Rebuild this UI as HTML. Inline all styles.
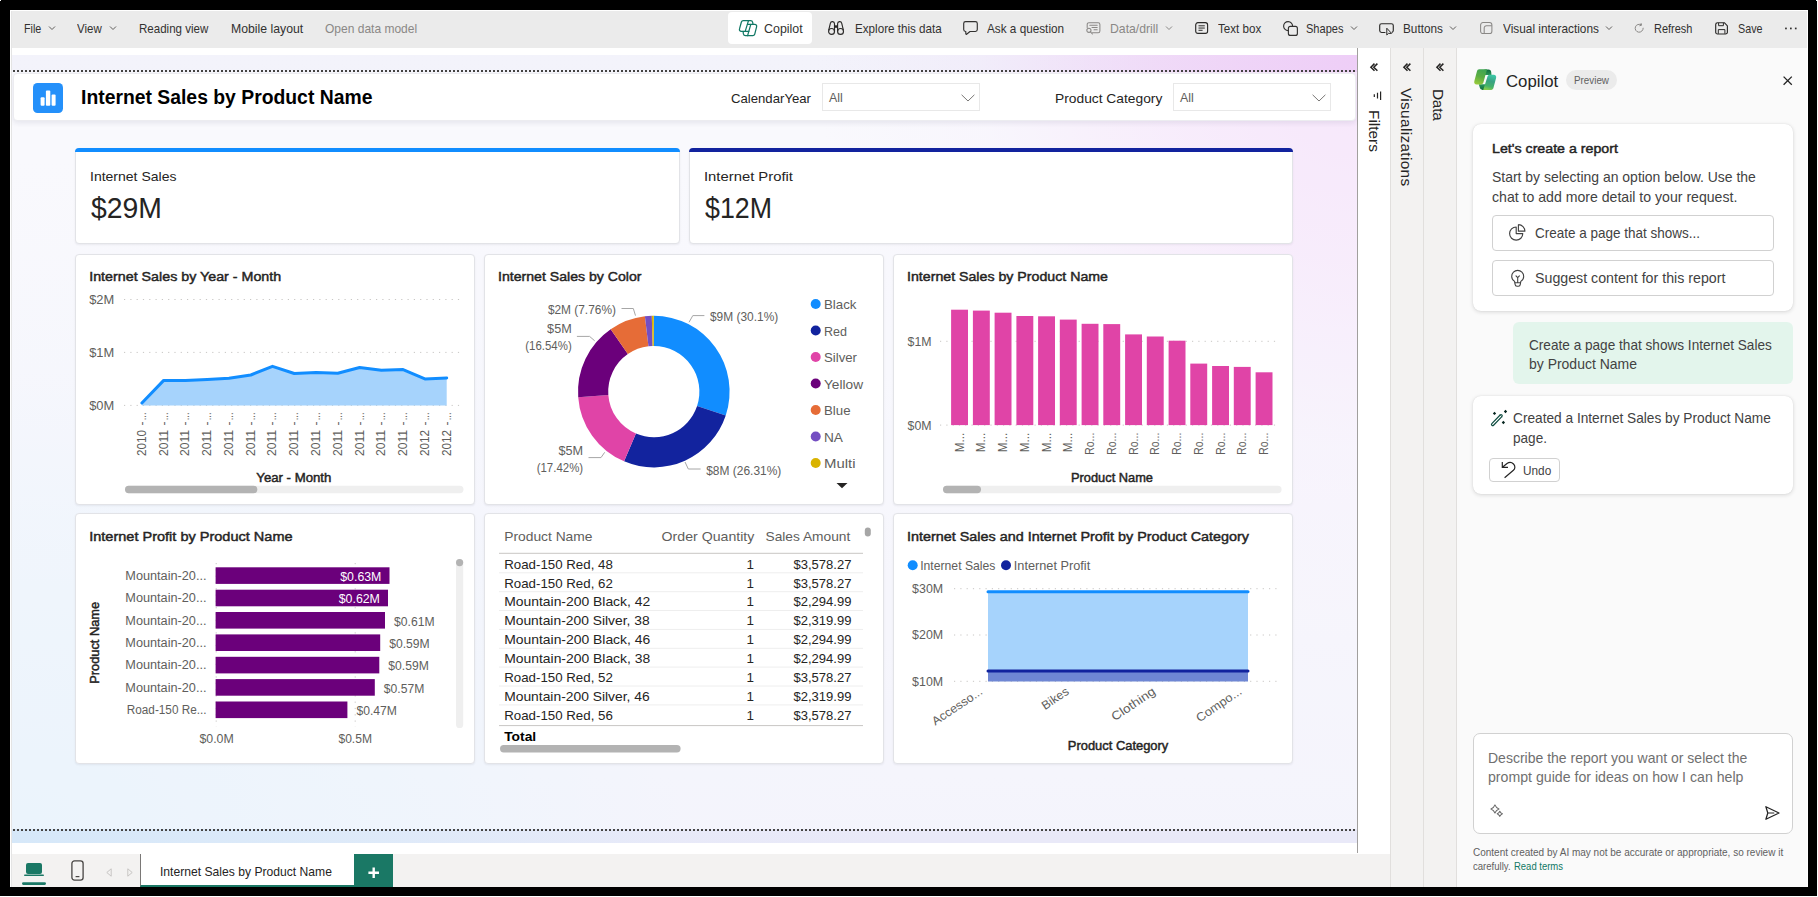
<!DOCTYPE html>
<html>
<head>
<meta charset="utf-8">
<title>Power BI - Internet Sales by Product Name</title>
<style>
*{box-sizing:border-box;margin:0;padding:0}
html,body{width:1818px;height:897px;overflow:hidden;background:#fff}
body{font-family:"Liberation Sans",sans-serif;color:#252423;position:relative}
.abs{position:absolute}
.t{position:absolute;white-space:nowrap;line-height:1.16;color:#252423}
#frame{position:absolute;left:0;top:0;width:1817px;height:896px;background:#000}
#app{position:absolute;left:10px;top:10px;width:1798px;height:877px;background:#fff;overflow:hidden}
svg{overflow:visible}
.card{position:absolute;background:#fff;border:1px solid #e2e3e7;border-radius:4px;box-shadow:0 1px 2px rgba(60,60,80,0.08)}

</style>
</head>
<body>
<div id="frame"></div>
<div class="abs" style="left:0;top:0;width:1px;height:1px;background:#fff"></div>
<div class="abs" style="left:1816px;top:0;width:1px;height:1px;background:#fff"></div>
<div id="app">
<div class="abs" style="left:0.0px;top:0.0px;width:1798.0px;height:38.0px;background:#ebebeb;"></div>
<div class="abs" style="left:718.0px;top:2.0px;width:84.0px;height:32.0px;background:#fff;border-radius:4px;"></div>
<div class="t" style="left:13.6px;top:11.5px;font-size:12.60px;transform:scaleX(0.8521);transform-origin:0 50%;color:#323130;">File</div>
<div class="t" style="left:67.3px;top:11.5px;font-size:12.60px;transform:scaleX(0.9120);transform-origin:0 50%;color:#323130;">View</div>
<div class="t" style="left:128.7px;top:11.5px;font-size:12.60px;transform:scaleX(0.9161);transform-origin:0 50%;color:#323130;">Reading view</div>
<div class="t" style="left:221.0px;top:11.5px;font-size:12.60px;transform:scaleX(0.9738);transform-origin:0 50%;color:#323130;">Mobile layout</div>
<div class="t" style="left:315.0px;top:11.5px;font-size:12.60px;transform:scaleX(0.9538);transform-origin:0 50%;color:#8a8886;">Open data model</div>
<div class="t" style="left:753.6px;top:11.5px;font-size:12.60px;transform:scaleX(0.9867);transform-origin:0 50%;color:#323130;">Copilot</div>
<div class="t" style="left:844.5px;top:11.5px;font-size:12.60px;transform:scaleX(0.9248);transform-origin:0 50%;color:#323130;">Explore this data</div>
<div class="t" style="left:976.9px;top:11.5px;font-size:12.60px;transform:scaleX(0.9328);transform-origin:0 50%;color:#323130;">Ask a question</div>
<div class="t" style="left:1099.7px;top:11.5px;font-size:12.60px;transform:scaleX(0.9715);transform-origin:0 50%;color:#8a8886;">Data/drill</div>
<div class="t" style="left:1207.7px;top:11.5px;font-size:12.60px;transform:scaleX(0.9228);transform-origin:0 50%;color:#323130;">Text box</div>
<div class="t" style="left:1296.0px;top:11.5px;font-size:12.60px;transform:scaleX(0.8775);transform-origin:0 50%;color:#323130;">Shapes</div>
<div class="t" style="left:1393.3px;top:11.5px;font-size:12.60px;transform:scaleX(0.9338);transform-origin:0 50%;color:#323130;">Buttons</div>
<div class="t" style="left:1492.5px;top:11.5px;font-size:12.60px;transform:scaleX(0.9409);transform-origin:0 50%;color:#323130;">Visual interactions</div>
<div class="t" style="left:1643.8px;top:11.5px;font-size:12.60px;transform:scaleX(0.8704);transform-origin:0 50%;color:#323130;">Refresh</div>
<div class="t" style="left:1728.0px;top:11.5px;font-size:12.60px;transform:scaleX(0.8531);transform-origin:0 50%;color:#323130;">Save</div>
<svg class="abs" style="left:37.5px;top:15.3px;" width="8" height="6" viewBox="0 0 8 6"><path d="M1 1.5 L4 4.5 L7 1.5" fill="none" stroke="#605e5c" stroke-width="1"/></svg>
<svg class="abs" style="left:99.0px;top:15.3px;" width="8" height="6" viewBox="0 0 8 6"><path d="M1 1.5 L4 4.5 L7 1.5" fill="none" stroke="#605e5c" stroke-width="1"/></svg>
<svg class="abs" style="left:1155.0px;top:15.3px;" width="8" height="6" viewBox="0 0 8 6"><path d="M1 1.5 L4 4.5 L7 1.5" fill="none" stroke="#8a8886" stroke-width="1"/></svg>
<svg class="abs" style="left:1340.3px;top:15.3px;" width="8" height="6" viewBox="0 0 8 6"><path d="M1 1.5 L4 4.5 L7 1.5" fill="none" stroke="#605e5c" stroke-width="1"/></svg>
<svg class="abs" style="left:1439.4px;top:15.3px;" width="8" height="6" viewBox="0 0 8 6"><path d="M1 1.5 L4 4.5 L7 1.5" fill="none" stroke="#605e5c" stroke-width="1"/></svg>
<svg class="abs" style="left:1594.6px;top:15.3px;" width="8" height="6" viewBox="0 0 8 6"><path d="M1 1.5 L4 4.5 L7 1.5" fill="none" stroke="#605e5c" stroke-width="1"/></svg>
<svg class="abs" style="left:1774.8px;top:15.7px;" width="12" height="5" viewBox="0 0 12 5"><rect x="0.1" y="1.6" width="1.7" height="1.7" fill="#323130"/><rect x="5" y="1.6" width="1.7" height="1.7" fill="#323130"/><rect x="9.9" y="1.6" width="1.7" height="1.7" fill="#323130"/></svg>
<svg class="abs" style="left:728.9px;top:9.8px;" width="18.2" height="16.3" viewBox="0 0 18.2 16.3"><g fill="none" stroke="#117865" stroke-width="1.25" stroke-linejoin="round" stroke-linecap="round"><path d="M4.2 0.65 H9.5 L6.2 11.4 H2.3 C0.9 11.4 0.1 10.2 0.5 8.9 L2.4 2 C2.7 1.1 3.3 0.65 4.2 0.65 Z"/><path d="M13.9 15.65 H8.6 L11.8 4.3 H15.8 C17.2 4.3 18 5.5 17.6 6.8 L15.7 14.3 C15.4 15.2 14.8 15.65 13.9 15.65 Z"/><path d="M9.5 0.65 H11.6 C12.8 0.65 13.5 1.4 13.7 2.4 L14 4.3 M8.5 4.3 H11.8"/><path d="M8.6 15.65 H6.5 C5.3 15.65 4.6 14.9 4.4 13.9 L4.1 11.4 M6.2 11.4 H9.8"/></g></svg>
<svg class="abs" style="left:817.9px;top:11.0px;" width="16.1" height="14" viewBox="0 0 16.1 14"><g fill="none" stroke="#2b2a29" stroke-width="1.15" stroke-linejoin="round"><path d="M0.65 9.4 L2.35 2.3 A2.1 2.1 0 0 1 6.5 2.7 V10.4"/><circle cx="3.55" cy="10.4" r="2.95"/><path d="M15.45 9.4 L13.75 2.3 A2.1 2.1 0 0 0 9.6 2.7 V10.4"/><circle cx="12.55" cy="10.4" r="2.95"/></g><rect x="6.5" y="4.3" width="3.1" height="2.5" fill="#2b2a29"/></svg>
<svg class="abs" style="left:953.2px;top:11.3px;" width="15" height="14.2" viewBox="0 0 15 14.2"><path d="M2.6 0.7 H12.4 A1.9 1.9 0 0 1 14.3 2.6 V8.6 A1.9 1.9 0 0 1 12.4 10.5 H7 L3.6 13.2 C3.2 13.5 2.8 13.3 2.8 12.8 V10.5 H2.6 A1.9 1.9 0 0 1 0.7 8.6 V2.6 A1.9 1.9 0 0 1 2.6 0.7 Z" fill="none" stroke="#323130" stroke-width="1.15" stroke-linejoin="round"/></svg>
<svg class="abs" style="left:1075.8px;top:12.4px;" width="14.6" height="12.6" viewBox="0 0 14.6 12.6"><g fill="none" stroke="#8a8886" stroke-width="1.05" stroke-linejoin="round" stroke-linecap="round"><path d="M1.2 5.6 V2.4 A1.7 1.7 0 0 1 2.9 0.7 H12.2 A1.7 1.7 0 0 1 13.9 2.4 V9 A1.7 1.7 0 0 1 12.2 10.7 H6.4"/><path d="M3.8 3.3 H11.2 M6 5.5 H11.2 M8 7.7 H11.2"/><circle cx="2.9" cy="8.3" r="2.1"/><path d="M4.5 9.9 L6.4 12"/></g></svg>
<svg class="abs" style="left:1184.7px;top:12.1px;" width="13.3" height="12.1" viewBox="0 0 13.3 12.1"><g fill="none" stroke="#2b2a29" stroke-width="1.15" stroke-linecap="round"><rect x="0.7" y="0.7" width="11.9" height="10.7" rx="2.2"/><path d="M3.9 3.8 H9.4 M3.9 6.05 H9.4 M3.9 8.3 H7.2" stroke-width="1"/></g></svg>
<svg class="abs" style="left:1272.6px;top:10.6px;" width="15.2" height="15" viewBox="0 0 15.2 15"><g fill="none" stroke="#323130" stroke-width="1.15"><path d="M5.4 9.6 A4.5 4.5 0 1 1 9.6 5.4"/><rect x="5.4" y="5.4" width="9" height="9" rx="2"/></g></svg>
<svg class="abs" style="left:1369.3px;top:12.7px;" width="15.4" height="13" viewBox="0 0 15.4 13"><g fill="none" stroke="#2b2a29" stroke-width="1.15" stroke-linejoin="round" stroke-linecap="round"><path d="M6 9.5 H2.6 A1.9 1.9 0 0 1 0.7 7.6 V2.6 A1.9 1.9 0 0 1 2.6 0.7 H12.4 A1.9 1.9 0 0 1 14.3 2.6 V7.6 A1.9 1.9 0 0 1 13.2 9.3"/><path d="M7.8 5.6 V12 L9.5 10.4 H12.2 Z" stroke-width="1"/></g></svg>
<svg class="abs" style="left:1470.1px;top:12.0px;" width="12.6" height="12.4" viewBox="0 0 12.6 12.4"><g fill="none" stroke="#8a8886" stroke-width="1.05"><rect x="0.6" y="0.6" width="11.3" height="11" rx="2.4"/><path d="M4.2 11.6 V5.9 A2.2 2.2 0 0 1 6.4 3.7 H11.9"/></g></svg>
<svg class="abs" style="left:1624.2px;top:13.0px;" width="10.6" height="10" viewBox="0 0 10.6 10"><g fill="none" stroke="#8a8886" stroke-width="1" stroke-linecap="round" stroke-linejoin="round"><path d="M9.2 5.2 A4 4 0 1 1 7.2 1.75"/><path d="M7.1 0.5 L7.5 2.2 L5.8 2.7" /></g></svg>
<svg class="abs" style="left:1705.0px;top:11.8px;" width="13.2" height="12.6" viewBox="0 0 13.2 12.6"><g fill="none" stroke="#2b2a29" stroke-width="1.15" stroke-linejoin="round"><path d="M2.5 0.7 H9.3 L12.4 3.8 V10.2 A1.8 1.8 0 0 1 10.6 12 H2.5 A1.8 1.8 0 0 1 0.7 10.2 V2.5 A1.8 1.8 0 0 1 2.5 0.7 Z"/><path d="M3.6 0.9 V3.7 H8.4 V0.9" stroke-width="1"/><path d="M3.3 11.8 V7.6 H9.9 V11.8" stroke-width="1"/></g></svg>
<div class="abs" style="left:0.0px;top:45.0px;width:1347.0px;height:788.0px;background:radial-gradient(ellipse 540px 560px at 100% 0%, rgba(238,206,247,1) 0%, rgba(239,212,247,0.8) 35%, rgba(238,226,248,0.35) 70%, rgba(240,238,250,0) 100%),radial-gradient(ellipse 320px 760px at 100% 0%, rgba(238,214,246,0.5) 0%, rgba(240,224,248,0.28) 50%, rgba(240,238,250,0) 100%),radial-gradient(ellipse 900px 640px at 0% 100%, rgba(214,232,249,1) 0%, rgba(218,234,249,0.75) 40%, rgba(230,235,249,0.3) 75%, rgba(235,234,248,0) 100%),linear-gradient(180deg,#f3f3fb 0%,#f0f0fa 40%,#e9e9f8 100%);"></div>
<div class="abs" style="left:0.0px;top:62.0px;width:1347.0px;height:757.0px;background:rgba(255,255,255,0.5);"></div>
<div class="abs" style="left:1347.0px;top:38.0px;width:1.0px;height:805.0px;background:#a19f9d;"></div>
<div class="abs" style="left:3.0px;top:60.0px;width:1343.0px;height:2.0px;background-image:repeating-linear-gradient(90deg,#454443 0 2px,transparent 2px 4px);"></div>
<div class="abs" style="left:3.0px;top:819.0px;width:1343.0px;height:2.0px;background-image:repeating-linear-gradient(90deg,#454443 0 2px,transparent 2px 4px);"></div>
<div class="abs" style="left:3.0px;top:63.0px;width:1343.0px;height:48.0px;background:#fff;border-radius:4px;border:1px solid #ececf0;box-shadow:0 2px 5px rgba(60,60,100,0.10);"></div>
<div class="abs" style="left:23.0px;top:73.0px;width:30.0px;height:30.0px;background:#2490fa;border-radius:4.5px;"></div>
<svg class="abs" style="left:23.0px;top:73.0px;" width="30" height="30" viewBox="0 0 30 30"><g fill="#fff"><rect x="7.6" y="14.2" width="4" height="8.6" rx="1"/><rect x="12.9" y="7.4" width="4.4" height="15.4" rx="1"/><rect x="18.6" y="11.6" width="4" height="11.2" rx="1"/></g></svg>
<div class="t" style="left:71.0px;top:75.6px;font-size:19.60px;transform:scaleX(0.9875);transform-origin:0 50%;font-weight:bold;color:#000;">Internet Sales by Product Name</div>
<div class="t" style="left:721.4px;top:80.9px;font-size:13.60px;transform:scaleX(0.9677);transform-origin:0 50%;color:#252423;">CalendarYear</div>
<div class="abs" style="left:812.0px;top:73.0px;width:158.0px;height:27.5px;border:1px solid #e8e8e8;background:#fff;"></div>
<div class="t" style="left:819.0px;top:81.1px;font-size:12.40px;color:#605e5c;">All</div>
<svg class="abs" style="left:950.5px;top:83.5px;" width="14" height="8" viewBox="0 0 14 8"><path d="M0.6 0.8 L7 7 L13.4 0.8" fill="none" stroke="#7a7876" stroke-width="1"/></svg>
<div class="t" style="left:1045.0px;top:80.9px;font-size:13.60px;transform:scaleX(1.0148);transform-origin:0 50%;color:#252423;">Product Category</div>
<div class="abs" style="left:1163.0px;top:73.0px;width:158.0px;height:27.5px;border:1px solid #e8e8e8;background:#fff;"></div>
<div class="t" style="left:1170.0px;top:81.1px;font-size:12.40px;color:#605e5c;">All</div>
<svg class="abs" style="left:1301.7px;top:83.5px;" width="14" height="8" viewBox="0 0 14 8"><path d="M0.6 0.8 L7 7 L13.4 0.8" fill="none" stroke="#7a7876" stroke-width="1"/></svg>
<div class="card" style="left:65.0px;top:138.0px;width:605.0px;height:96.0px;"></div><div class="abs" style="left:65.0px;top:138.0px;width:605.0px;height:4.0px;background:#118dff;border-radius:4px 4px 0 0;"></div><div class="t" style="left:80.0px;top:159.1px;font-size:13.60px;transform:scaleX(1.0308);transform-origin:0 50%;color:#252423;">Internet Sales</div><div class="t" style="left:80.5px;top:181.9px;font-size:28.60px;transform:scaleX(0.9924);transform-origin:0 50%;color:#252423;">$29M</div>
<div class="card" style="left:679.0px;top:138.0px;width:604.0px;height:96.0px;"></div><div class="abs" style="left:679.0px;top:138.0px;width:604.0px;height:4.0px;background:#12239e;border-radius:4px 4px 0 0;"></div><div class="t" style="left:694.0px;top:159.1px;font-size:13.60px;transform:scaleX(1.0901);transform-origin:0 50%;color:#252423;">Internet Profit</div><div class="t" style="left:694.5px;top:181.9px;font-size:28.60px;transform:scaleX(0.9365);transform-origin:0 50%;color:#252423;">$12M</div>
<div class="card" style="left:65.0px;top:244.0px;width:400.0px;height:251.0px;"></div>
<div class="card" style="left:65.0px;top:503.0px;width:400.0px;height:251.0px;"></div>
<div class="card" style="left:474.0px;top:244.0px;width:400.0px;height:251.0px;"></div>
<div class="card" style="left:474.0px;top:503.0px;width:400.0px;height:251.0px;"></div>
<div class="card" style="left:883.0px;top:244.0px;width:400.0px;height:251.0px;"></div>
<div class="card" style="left:883.0px;top:503.0px;width:400.0px;height:251.0px;"></div>
<svg class="abs" style="left:0;top:0" width="1798" height="877" viewBox="10 10 1798 877" font-family="Liberation Sans, sans-serif"><text transform="translate(89.2,276.3)" x="0.0" y="4.80" font-size="13.40" fill="#252423" stroke="#252423" stroke-width="0.45" paint-order="stroke" textLength="192.00" lengthAdjust="spacingAndGlyphs">Internet Sales by Year - Month</text>
<text transform="translate(498.0,276.3)" x="0.0" y="4.80" font-size="13.40" fill="#252423" stroke="#252423" stroke-width="0.45" paint-order="stroke" textLength="143.50" lengthAdjust="spacingAndGlyphs">Internet Sales by Color</text>
<text transform="translate(907.0,276.3)" x="0.0" y="4.80" font-size="13.40" fill="#252423" stroke="#252423" stroke-width="0.45" paint-order="stroke" textLength="201.00" lengthAdjust="spacingAndGlyphs">Internet Sales by Product Name</text>
<text transform="translate(89.2,536.3)" x="0.0" y="4.80" font-size="13.40" fill="#252423" stroke="#252423" stroke-width="0.45" paint-order="stroke" textLength="203.40" lengthAdjust="spacingAndGlyphs">Internet Profit by Product Name</text>
<text transform="translate(907.0,536.3)" x="0.0" y="4.80" font-size="13.40" fill="#252423" stroke="#252423" stroke-width="0.45" paint-order="stroke" textLength="342.00" lengthAdjust="spacingAndGlyphs">Internet Sales and Internet Profit by Product Category</text>
<line x1="124" y1="299.5" x2="460" y2="299.5" stroke="#c8c6c4" stroke-width="1" stroke-dasharray="1.2 5.1" stroke-linecap="butt"/>
<text transform="translate(89.2,299.8)" x="0.0" y="4.44" font-size="12.40" fill="#605e5c" textLength="25.00" lengthAdjust="spacingAndGlyphs">$2M</text>
<line x1="124" y1="352.4" x2="460" y2="352.4" stroke="#c8c6c4" stroke-width="1" stroke-dasharray="1.2 5.1" stroke-linecap="butt"/>
<text transform="translate(89.2,352.7)" x="0.0" y="4.44" font-size="12.40" fill="#605e5c" textLength="25.00" lengthAdjust="spacingAndGlyphs">$1M</text>
<line x1="124" y1="405.4" x2="460" y2="405.4" stroke="#c8c6c4" stroke-width="1" stroke-dasharray="1.2 5.1" stroke-linecap="butt"/>
<text transform="translate(89.2,405.7)" x="0.0" y="4.44" font-size="12.40" fill="#605e5c" textLength="25.00" lengthAdjust="spacingAndGlyphs">$0M</text>
<polygon points="141.9,405.4 141.9,403.0 163.7,380.4 185.4,380.4 207.2,379.5 229.0,378.3 250.8,375.0 272.5,366.3 294.3,373.5 316.1,372.6 337.8,373.2 359.6,367.5 381.4,370.2 403.1,369.6 424.9,378.9 446.7,378.0 446.7,405.4" fill="#a6d3fc"/>
<polyline points="141.9,403.0 163.7,380.4 185.4,380.4 207.2,379.5 229.0,378.3 250.8,375.0 272.5,366.3 294.3,373.5 316.1,372.6 337.8,373.2 359.6,367.5 381.4,370.2 403.1,369.6 424.9,378.9 446.7,378.0" fill="none" stroke="#118dff" stroke-width="3" stroke-linejoin="round" stroke-linecap="round"/>
<text transform="translate(141.5,456.1) rotate(-90)" x="0.0" y="4.30" font-size="12.00" fill="#605e5c" textLength="26.20" lengthAdjust="spacingAndGlyphs">2010</text>
<text transform="translate(141.5,425.5) rotate(-90)" x="0.0" y="4.30" font-size="12.00" fill="#605e5c">-</text>
<text transform="translate(141.5,420.3) rotate(-90)" x="0.0" y="4.30" font-size="12.00" fill="#605e5c" textLength="7.80" lengthAdjust="spacingAndGlyphs">...</text>
<text transform="translate(163.3,456.1) rotate(-90)" x="0.0" y="4.30" font-size="12.00" fill="#605e5c" textLength="26.20" lengthAdjust="spacingAndGlyphs">2011</text>
<text transform="translate(163.3,425.5) rotate(-90)" x="0.0" y="4.30" font-size="12.00" fill="#605e5c">-</text>
<text transform="translate(163.3,420.3) rotate(-90)" x="0.0" y="4.30" font-size="12.00" fill="#605e5c" textLength="7.80" lengthAdjust="spacingAndGlyphs">...</text>
<text transform="translate(185.0,456.1) rotate(-90)" x="0.0" y="4.30" font-size="12.00" fill="#605e5c" textLength="26.20" lengthAdjust="spacingAndGlyphs">2011</text>
<text transform="translate(185.0,425.5) rotate(-90)" x="0.0" y="4.30" font-size="12.00" fill="#605e5c">-</text>
<text transform="translate(185.0,420.3) rotate(-90)" x="0.0" y="4.30" font-size="12.00" fill="#605e5c" textLength="7.80" lengthAdjust="spacingAndGlyphs">...</text>
<text transform="translate(206.8,456.1) rotate(-90)" x="0.0" y="4.30" font-size="12.00" fill="#605e5c" textLength="26.20" lengthAdjust="spacingAndGlyphs">2011</text>
<text transform="translate(206.8,425.5) rotate(-90)" x="0.0" y="4.30" font-size="12.00" fill="#605e5c">-</text>
<text transform="translate(206.8,420.3) rotate(-90)" x="0.0" y="4.30" font-size="12.00" fill="#605e5c" textLength="7.80" lengthAdjust="spacingAndGlyphs">...</text>
<text transform="translate(228.6,456.1) rotate(-90)" x="0.0" y="4.30" font-size="12.00" fill="#605e5c" textLength="26.20" lengthAdjust="spacingAndGlyphs">2011</text>
<text transform="translate(228.6,425.5) rotate(-90)" x="0.0" y="4.30" font-size="12.00" fill="#605e5c">-</text>
<text transform="translate(228.6,420.3) rotate(-90)" x="0.0" y="4.30" font-size="12.00" fill="#605e5c" textLength="7.80" lengthAdjust="spacingAndGlyphs">...</text>
<text transform="translate(250.3,456.1) rotate(-90)" x="0.0" y="4.30" font-size="12.00" fill="#605e5c" textLength="26.20" lengthAdjust="spacingAndGlyphs">2011</text>
<text transform="translate(250.3,425.5) rotate(-90)" x="0.0" y="4.30" font-size="12.00" fill="#605e5c">-</text>
<text transform="translate(250.3,420.3) rotate(-90)" x="0.0" y="4.30" font-size="12.00" fill="#605e5c" textLength="7.80" lengthAdjust="spacingAndGlyphs">...</text>
<text transform="translate(272.1,456.1) rotate(-90)" x="0.0" y="4.30" font-size="12.00" fill="#605e5c" textLength="26.20" lengthAdjust="spacingAndGlyphs">2011</text>
<text transform="translate(272.1,425.5) rotate(-90)" x="0.0" y="4.30" font-size="12.00" fill="#605e5c">-</text>
<text transform="translate(272.1,420.3) rotate(-90)" x="0.0" y="4.30" font-size="12.00" fill="#605e5c" textLength="7.80" lengthAdjust="spacingAndGlyphs">...</text>
<text transform="translate(293.9,456.1) rotate(-90)" x="0.0" y="4.30" font-size="12.00" fill="#605e5c" textLength="26.20" lengthAdjust="spacingAndGlyphs">2011</text>
<text transform="translate(293.9,425.5) rotate(-90)" x="0.0" y="4.30" font-size="12.00" fill="#605e5c">-</text>
<text transform="translate(293.9,420.3) rotate(-90)" x="0.0" y="4.30" font-size="12.00" fill="#605e5c" textLength="7.80" lengthAdjust="spacingAndGlyphs">...</text>
<text transform="translate(315.7,456.1) rotate(-90)" x="0.0" y="4.30" font-size="12.00" fill="#605e5c" textLength="26.20" lengthAdjust="spacingAndGlyphs">2011</text>
<text transform="translate(315.7,425.5) rotate(-90)" x="0.0" y="4.30" font-size="12.00" fill="#605e5c">-</text>
<text transform="translate(315.7,420.3) rotate(-90)" x="0.0" y="4.30" font-size="12.00" fill="#605e5c" textLength="7.80" lengthAdjust="spacingAndGlyphs">...</text>
<text transform="translate(337.4,456.1) rotate(-90)" x="0.0" y="4.30" font-size="12.00" fill="#605e5c" textLength="26.20" lengthAdjust="spacingAndGlyphs">2011</text>
<text transform="translate(337.4,425.5) rotate(-90)" x="0.0" y="4.30" font-size="12.00" fill="#605e5c">-</text>
<text transform="translate(337.4,420.3) rotate(-90)" x="0.0" y="4.30" font-size="12.00" fill="#605e5c" textLength="7.80" lengthAdjust="spacingAndGlyphs">...</text>
<text transform="translate(359.2,456.1) rotate(-90)" x="0.0" y="4.30" font-size="12.00" fill="#605e5c" textLength="26.20" lengthAdjust="spacingAndGlyphs">2011</text>
<text transform="translate(359.2,425.5) rotate(-90)" x="0.0" y="4.30" font-size="12.00" fill="#605e5c">-</text>
<text transform="translate(359.2,420.3) rotate(-90)" x="0.0" y="4.30" font-size="12.00" fill="#605e5c" textLength="7.80" lengthAdjust="spacingAndGlyphs">...</text>
<text transform="translate(381.0,456.1) rotate(-90)" x="0.0" y="4.30" font-size="12.00" fill="#605e5c" textLength="26.20" lengthAdjust="spacingAndGlyphs">2011</text>
<text transform="translate(381.0,425.5) rotate(-90)" x="0.0" y="4.30" font-size="12.00" fill="#605e5c">-</text>
<text transform="translate(381.0,420.3) rotate(-90)" x="0.0" y="4.30" font-size="12.00" fill="#605e5c" textLength="7.80" lengthAdjust="spacingAndGlyphs">...</text>
<text transform="translate(402.7,456.1) rotate(-90)" x="0.0" y="4.30" font-size="12.00" fill="#605e5c" textLength="26.20" lengthAdjust="spacingAndGlyphs">2011</text>
<text transform="translate(402.7,425.5) rotate(-90)" x="0.0" y="4.30" font-size="12.00" fill="#605e5c">-</text>
<text transform="translate(402.7,420.3) rotate(-90)" x="0.0" y="4.30" font-size="12.00" fill="#605e5c" textLength="7.80" lengthAdjust="spacingAndGlyphs">...</text>
<text transform="translate(424.5,456.1) rotate(-90)" x="0.0" y="4.30" font-size="12.00" fill="#605e5c" textLength="26.20" lengthAdjust="spacingAndGlyphs">2012</text>
<text transform="translate(424.5,425.5) rotate(-90)" x="0.0" y="4.30" font-size="12.00" fill="#605e5c">-</text>
<text transform="translate(424.5,420.3) rotate(-90)" x="0.0" y="4.30" font-size="12.00" fill="#605e5c" textLength="7.80" lengthAdjust="spacingAndGlyphs">...</text>
<text transform="translate(446.3,456.1) rotate(-90)" x="0.0" y="4.30" font-size="12.00" fill="#605e5c" textLength="26.20" lengthAdjust="spacingAndGlyphs">2012</text>
<text transform="translate(446.3,425.5) rotate(-90)" x="0.0" y="4.30" font-size="12.00" fill="#605e5c">-</text>
<text transform="translate(446.3,420.3) rotate(-90)" x="0.0" y="4.30" font-size="12.00" fill="#605e5c" textLength="7.80" lengthAdjust="spacingAndGlyphs">...</text>
<text transform="translate(293.8,477.5)" x="-37.5" y="4.44" font-size="12.40" fill="#252423" stroke="#252423" stroke-width="0.45" paint-order="stroke" textLength="75.00" lengthAdjust="spacingAndGlyphs">Year - Month</text>
<rect x="125" y="485.8" width="338.5" height="7.4" rx="3.7" fill="#efefef"/><rect x="125" y="485.8" width="132.3" height="7.4" rx="3.7" fill="#b3b3b3"/>
<path d="M653.80 315.80 A75.8 75.8 0 0 1 725.74 415.48 L697.08 405.96 A45.6 45.6 0 0 0 653.80 346.00 Z" fill="#118dff"/>
<path d="M725.74 415.48 A75.8 75.8 0 0 1 624.09 461.33 L635.93 433.55 A45.6 45.6 0 0 0 697.08 405.96 Z" fill="#12239e"/>
<path d="M624.09 461.33 A75.8 75.8 0 0 1 578.20 397.17 L608.32 394.95 A45.6 45.6 0 0 0 635.93 433.55 Z" fill="#e044a7"/>
<path d="M578.20 397.17 A75.8 75.8 0 0 1 610.68 329.26 L627.86 354.10 A45.6 45.6 0 0 0 608.32 394.95 Z" fill="#6b007b"/>
<path d="M610.68 329.26 A75.8 75.8 0 0 1 644.91 316.32 L648.45 346.31 A45.6 45.6 0 0 0 627.86 354.10 Z" fill="#e66c37"/>
<path d="M644.91 316.32 A75.8 75.8 0 0 1 651.80 315.83 L652.60 346.02 A45.6 45.6 0 0 0 648.45 346.31 Z" fill="#744ec2"/>
<path d="M651.80 315.83 A75.8 75.8 0 0 1 653.80 315.80 L653.80 346.00 A45.6 45.6 0 0 0 652.60 346.02 Z" fill="#d9b300"/>
<path d="M689 322.3 L692.8 315.6 H704.4" fill="none" stroke="#a6a6a6" stroke-width="1"/>
<path d="M685 462 L688.3 469 H700.6" fill="none" stroke="#a6a6a6" stroke-width="1"/>
<path d="M604.7 452.3 L601 457.6 H588.5" fill="none" stroke="#a6a6a6" stroke-width="1"/>
<path d="M594.7 340.8 L589.6 336.4 H576.9" fill="none" stroke="#a6a6a6" stroke-width="1"/>
<path d="M635.5 315.6 L633.3 308.5 H621.5" fill="none" stroke="#a6a6a6" stroke-width="1"/>
<text transform="translate(710.0,316.7)" x="0.0" y="4.30" font-size="12.00" fill="#605e5c" textLength="68.20" lengthAdjust="spacingAndGlyphs">$9M (30.1%)</text>
<text transform="translate(706.2,470.6)" x="0.0" y="4.30" font-size="12.00" fill="#605e5c" textLength="75.10" lengthAdjust="spacingAndGlyphs">$8M (26.31%)</text>
<text transform="translate(583.1,450.5)" x="-24.6" y="4.30" font-size="12.00" fill="#605e5c" textLength="24.60" lengthAdjust="spacingAndGlyphs">$5M</text>
<text transform="translate(583.1,467.7)" x="-46.4" y="4.30" font-size="12.00" fill="#605e5c" textLength="46.40" lengthAdjust="spacingAndGlyphs">(17.42%)</text>
<text transform="translate(571.7,328.3)" x="-24.6" y="4.30" font-size="12.00" fill="#605e5c" textLength="24.60" lengthAdjust="spacingAndGlyphs">$5M</text>
<text transform="translate(571.7,345.3)" x="-46.4" y="4.30" font-size="12.00" fill="#605e5c" textLength="46.40" lengthAdjust="spacingAndGlyphs">(16.54%)</text>
<text transform="translate(615.9,310.0)" x="-68.0" y="4.30" font-size="12.00" fill="#605e5c" textLength="68.00" lengthAdjust="spacingAndGlyphs">$2M (7.76%)</text>
<circle cx="815.7" cy="304.0" r="5" fill="#118dff"/>
<text transform="translate(824.0,304.4)" x="0.0" y="4.80" font-size="13.40" fill="#605e5c" textLength="32.50" lengthAdjust="spacingAndGlyphs">Black</text>
<circle cx="815.7" cy="330.5" r="5" fill="#12239e"/>
<text transform="translate(824.0,330.9)" x="0.0" y="4.80" font-size="13.40" fill="#605e5c" textLength="23.00" lengthAdjust="spacingAndGlyphs">Red</text>
<circle cx="815.7" cy="357.0" r="5" fill="#e044a7"/>
<text transform="translate(824.0,357.4)" x="0.0" y="4.80" font-size="13.40" fill="#605e5c" textLength="33.00" lengthAdjust="spacingAndGlyphs">Silver</text>
<circle cx="815.7" cy="383.5" r="5" fill="#6b007b"/>
<text transform="translate(824.0,383.9)" x="0.0" y="4.80" font-size="13.40" fill="#605e5c" textLength="39.00" lengthAdjust="spacingAndGlyphs">Yellow</text>
<circle cx="815.7" cy="410.0" r="5" fill="#e66c37"/>
<text transform="translate(824.0,410.4)" x="0.0" y="4.80" font-size="13.40" fill="#605e5c" textLength="26.50" lengthAdjust="spacingAndGlyphs">Blue</text>
<circle cx="815.7" cy="436.5" r="5" fill="#744ec2"/>
<text transform="translate(824.0,436.9)" x="0.0" y="4.80" font-size="13.40" fill="#605e5c" textLength="19.00" lengthAdjust="spacingAndGlyphs">NA</text>
<circle cx="815.7" cy="463.0" r="5" fill="#d9b300"/>
<text transform="translate(824.0,463.4)" x="0.0" y="4.80" font-size="13.40" fill="#605e5c" textLength="31.50" lengthAdjust="spacingAndGlyphs">Multi</text>
<path d="M836.5 483 H847.5 L842 488.3 Z" fill="#252423"/>
<line x1="940" y1="341.3" x2="1278" y2="341.3" stroke="#c8c6c4" stroke-width="1" stroke-dasharray="1.2 5.1" stroke-linecap="butt"/>
<line x1="940" y1="425.1" x2="1278" y2="425.1" stroke="#c8c6c4" stroke-width="1" stroke-dasharray="1.2 5.1" stroke-linecap="butt"/>
<text transform="translate(907.6,341.6)" x="0.0" y="4.44" font-size="12.40" fill="#605e5c" textLength="24.00" lengthAdjust="spacingAndGlyphs">$1M</text>
<text transform="translate(907.6,425.5)" x="0.0" y="4.44" font-size="12.40" fill="#605e5c" textLength="24.00" lengthAdjust="spacingAndGlyphs">$0M</text>
<rect x="951.1" y="309.7" width="16.9" height="115.4" fill="#e044a7"/>
<text transform="translate(959.3,432.7) rotate(-90)" x="-19.5" y="4.30" font-size="12.00" fill="#605e5c" textLength="19.50" lengthAdjust="spacingAndGlyphs">M...</text>
<rect x="972.9" y="310.6" width="16.9" height="114.5" fill="#e044a7"/>
<text transform="translate(981.1,432.7) rotate(-90)" x="-19.5" y="4.30" font-size="12.00" fill="#605e5c" textLength="19.50" lengthAdjust="spacingAndGlyphs">M...</text>
<rect x="994.6" y="312.7" width="16.9" height="112.4" fill="#e044a7"/>
<text transform="translate(1002.8,432.7) rotate(-90)" x="-19.5" y="4.30" font-size="12.00" fill="#605e5c" textLength="19.50" lengthAdjust="spacingAndGlyphs">M...</text>
<rect x="1016.4" y="316.0" width="16.9" height="109.1" fill="#e044a7"/>
<text transform="translate(1024.5,432.7) rotate(-90)" x="-19.5" y="4.30" font-size="12.00" fill="#605e5c" textLength="19.50" lengthAdjust="spacingAndGlyphs">M...</text>
<rect x="1038.1" y="316.3" width="16.9" height="108.8" fill="#e044a7"/>
<text transform="translate(1046.3,432.7) rotate(-90)" x="-19.5" y="4.30" font-size="12.00" fill="#605e5c" textLength="19.50" lengthAdjust="spacingAndGlyphs">M...</text>
<rect x="1059.8" y="319.6" width="16.9" height="105.5" fill="#e044a7"/>
<text transform="translate(1068.0,432.7) rotate(-90)" x="-19.5" y="4.30" font-size="12.00" fill="#605e5c" textLength="19.50" lengthAdjust="spacingAndGlyphs">M...</text>
<rect x="1081.6" y="323.8" width="16.9" height="101.3" fill="#e044a7"/>
<text transform="translate(1089.8,432.7) rotate(-90)" x="-22.0" y="4.30" font-size="12.00" fill="#605e5c" textLength="22.00" lengthAdjust="spacingAndGlyphs">Ro...</text>
<rect x="1103.3" y="324.1" width="16.9" height="101.0" fill="#e044a7"/>
<text transform="translate(1111.5,432.7) rotate(-90)" x="-22.0" y="4.30" font-size="12.00" fill="#605e5c" textLength="22.00" lengthAdjust="spacingAndGlyphs">Ro...</text>
<rect x="1125.1" y="334.4" width="16.9" height="90.7" fill="#e044a7"/>
<text transform="translate(1133.3,432.7) rotate(-90)" x="-22.0" y="4.30" font-size="12.00" fill="#605e5c" textLength="22.00" lengthAdjust="spacingAndGlyphs">Ro...</text>
<rect x="1146.8" y="336.5" width="16.9" height="88.6" fill="#e044a7"/>
<text transform="translate(1155.0,432.7) rotate(-90)" x="-22.0" y="4.30" font-size="12.00" fill="#605e5c" textLength="22.00" lengthAdjust="spacingAndGlyphs">Ro...</text>
<rect x="1168.6" y="340.7" width="16.9" height="84.4" fill="#e044a7"/>
<text transform="translate(1176.8,432.7) rotate(-90)" x="-22.0" y="4.30" font-size="12.00" fill="#605e5c" textLength="22.00" lengthAdjust="spacingAndGlyphs">Ro...</text>
<rect x="1190.3" y="363.6" width="16.9" height="61.5" fill="#e044a7"/>
<text transform="translate(1198.5,432.7) rotate(-90)" x="-22.0" y="4.30" font-size="12.00" fill="#605e5c" textLength="22.00" lengthAdjust="spacingAndGlyphs">Ro...</text>
<rect x="1212.1" y="366.0" width="16.9" height="59.1" fill="#e044a7"/>
<text transform="translate(1220.3,432.7) rotate(-90)" x="-22.0" y="4.30" font-size="12.00" fill="#605e5c" textLength="22.00" lengthAdjust="spacingAndGlyphs">Ro...</text>
<rect x="1233.8" y="366.9" width="16.9" height="58.2" fill="#e044a7"/>
<text transform="translate(1242.0,432.7) rotate(-90)" x="-22.0" y="4.30" font-size="12.00" fill="#605e5c" textLength="22.00" lengthAdjust="spacingAndGlyphs">Ro...</text>
<rect x="1255.6" y="372.3" width="16.9" height="52.8" fill="#e044a7"/>
<text transform="translate(1263.8,432.7) rotate(-90)" x="-22.0" y="4.30" font-size="12.00" fill="#605e5c" textLength="22.00" lengthAdjust="spacingAndGlyphs">Ro...</text>
<text transform="translate(1112.0,477.5)" x="-41.0" y="4.44" font-size="12.40" fill="#252423" stroke="#252423" stroke-width="0.45" paint-order="stroke" textLength="82.00" lengthAdjust="spacingAndGlyphs">Product Name</text>
<rect x="943" y="485.8" width="338.5999999999999" height="7.4" rx="3.7" fill="#efefef"/><rect x="943" y="485.8" width="38" height="7.4" rx="3.7" fill="#b3b3b3"/>
<line x1="216.2" y1="563" x2="216.2" y2="727" stroke="#c8c6c4" stroke-width="1" stroke-dasharray="1.2 5.1"/>
<line x1="355.2" y1="563" x2="355.2" y2="727" stroke="#c8c6c4" stroke-width="1" stroke-dasharray="1.2 5.1"/>
<rect x="215.6" y="567.3" width="173.9" height="16.6" fill="#6b007b"/>
<text transform="translate(206.5,575.5)" x="-81.2" y="4.30" font-size="12.00" fill="#605e5c" textLength="81.20" lengthAdjust="spacingAndGlyphs">Mountain-20...</text>
<text transform="translate(381.4,576.6)" x="-41.2" y="4.30" font-size="12.00" fill="#fff" textLength="41.20" lengthAdjust="spacingAndGlyphs">$0.63M</text>
<rect x="215.6" y="589.7" width="172.4" height="16.6" fill="#6b007b"/>
<text transform="translate(206.5,597.9)" x="-81.2" y="4.30" font-size="12.00" fill="#605e5c" textLength="81.20" lengthAdjust="spacingAndGlyphs">Mountain-20...</text>
<text transform="translate(379.9,599.0)" x="-41.2" y="4.30" font-size="12.00" fill="#fff" textLength="41.20" lengthAdjust="spacingAndGlyphs">$0.62M</text>
<rect x="215.6" y="612.0" width="169.4" height="16.6" fill="#6b007b"/>
<text transform="translate(206.5,620.2)" x="-81.2" y="4.30" font-size="12.00" fill="#605e5c" textLength="81.20" lengthAdjust="spacingAndGlyphs">Mountain-20...</text>
<text transform="translate(394.0,621.3)" x="0.0" y="4.30" font-size="12.00" fill="#605e5c" textLength="40.50" lengthAdjust="spacingAndGlyphs">$0.61M</text>
<rect x="215.6" y="634.4" width="164.6" height="16.6" fill="#6b007b"/>
<text transform="translate(206.5,642.6)" x="-81.2" y="4.30" font-size="12.00" fill="#605e5c" textLength="81.20" lengthAdjust="spacingAndGlyphs">Mountain-20...</text>
<text transform="translate(389.2,643.7)" x="0.0" y="4.30" font-size="12.00" fill="#605e5c" textLength="40.50" lengthAdjust="spacingAndGlyphs">$0.59M</text>
<rect x="215.6" y="656.8" width="163.7" height="16.6" fill="#6b007b"/>
<text transform="translate(206.5,665.0)" x="-81.2" y="4.30" font-size="12.00" fill="#605e5c" textLength="81.20" lengthAdjust="spacingAndGlyphs">Mountain-20...</text>
<text transform="translate(388.3,666.1)" x="0.0" y="4.30" font-size="12.00" fill="#605e5c" textLength="40.50" lengthAdjust="spacingAndGlyphs">$0.59M</text>
<rect x="215.6" y="679.1" width="159.2" height="16.6" fill="#6b007b"/>
<text transform="translate(206.5,687.4)" x="-81.2" y="4.30" font-size="12.00" fill="#605e5c" textLength="81.20" lengthAdjust="spacingAndGlyphs">Mountain-20...</text>
<text transform="translate(383.8,688.4)" x="0.0" y="4.30" font-size="12.00" fill="#605e5c" textLength="40.50" lengthAdjust="spacingAndGlyphs">$0.57M</text>
<rect x="215.6" y="701.5" width="131.8" height="16.6" fill="#6b007b"/>
<text transform="translate(206.5,709.7)" x="-79.7" y="4.30" font-size="12.00" fill="#605e5c" textLength="79.70" lengthAdjust="spacingAndGlyphs">Road-150 Re...</text>
<text transform="translate(356.4,710.8)" x="0.0" y="4.30" font-size="12.00" fill="#605e5c" textLength="40.50" lengthAdjust="spacingAndGlyphs">$0.47M</text>
<text transform="translate(216.5,739.1)" x="-17.1" y="4.30" font-size="12.00" fill="#605e5c" textLength="34.30" lengthAdjust="spacingAndGlyphs">$0.0M</text>
<text transform="translate(355.2,739.1)" x="-16.8" y="4.30" font-size="12.00" fill="#605e5c" textLength="33.60" lengthAdjust="spacingAndGlyphs">$0.5M</text>
<text transform="translate(94.3,642.8) rotate(-90)" x="-41.0" y="4.44" font-size="12.40" fill="#252423" stroke="#252423" stroke-width="0.45" paint-order="stroke" textLength="82.00" lengthAdjust="spacingAndGlyphs">Product Name</text>
<rect x="456" y="559" width="7.2" height="169" rx="3.6" fill="#efefef"/><circle cx="459.6" cy="562.6" r="3.6" fill="#b3b3b3"/>
<text transform="translate(504.2,536.3)" x="0.0" y="4.80" font-size="13.40" fill="#605e5c" textLength="88.30" lengthAdjust="spacingAndGlyphs">Product Name</text>
<text transform="translate(754.3,536.3)" x="-92.7" y="4.80" font-size="13.40" fill="#605e5c" textLength="92.70" lengthAdjust="spacingAndGlyphs">Order Quantity</text>
<text transform="translate(850.3,536.3)" x="-84.8" y="4.80" font-size="13.40" fill="#605e5c" textLength="84.80" lengthAdjust="spacingAndGlyphs">Sales Amount</text>
<line x1="499" y1="553.3" x2="863" y2="553.3" stroke="#c8c6c4" stroke-width="1"/>
<text transform="translate(504.2,563.9)" x="0.0" y="4.80" font-size="13.40" fill="#252423" textLength="108.60" lengthAdjust="spacingAndGlyphs">Road-150 Red, 48</text>
<text transform="translate(754.0,563.9)" x="-7.5" y="4.80" font-size="13.40" fill="#252423">1</text>
<text transform="translate(851.4,563.9)" x="-58.0" y="4.80" font-size="13.40" fill="#252423" textLength="58.00" lengthAdjust="spacingAndGlyphs">$3,578.27</text>
<line x1="499" y1="572.8" x2="863" y2="572.8" stroke="#eeeeee" stroke-width="1"/>
<text transform="translate(504.2,582.8)" x="0.0" y="4.80" font-size="13.40" fill="#252423" textLength="108.60" lengthAdjust="spacingAndGlyphs">Road-150 Red, 62</text>
<text transform="translate(754.0,582.8)" x="-7.5" y="4.80" font-size="13.40" fill="#252423">1</text>
<text transform="translate(851.4,582.8)" x="-58.0" y="4.80" font-size="13.40" fill="#252423" textLength="58.00" lengthAdjust="spacingAndGlyphs">$3,578.27</text>
<line x1="499" y1="591.7" x2="863" y2="591.7" stroke="#eeeeee" stroke-width="1"/>
<text transform="translate(504.2,601.6)" x="0.0" y="4.80" font-size="13.40" fill="#252423" textLength="146.00" lengthAdjust="spacingAndGlyphs">Mountain-200 Black, 42</text>
<text transform="translate(754.0,601.6)" x="-7.5" y="4.80" font-size="13.40" fill="#252423">1</text>
<text transform="translate(851.4,601.6)" x="-58.0" y="4.80" font-size="13.40" fill="#252423" textLength="58.00" lengthAdjust="spacingAndGlyphs">$2,294.99</text>
<line x1="499" y1="610.5" x2="863" y2="610.5" stroke="#eeeeee" stroke-width="1"/>
<text transform="translate(504.2,620.5)" x="0.0" y="4.80" font-size="13.40" fill="#252423" textLength="145.40" lengthAdjust="spacingAndGlyphs">Mountain-200 Silver, 38</text>
<text transform="translate(754.0,620.5)" x="-7.5" y="4.80" font-size="13.40" fill="#252423">1</text>
<text transform="translate(851.4,620.5)" x="-58.0" y="4.80" font-size="13.40" fill="#252423" textLength="58.00" lengthAdjust="spacingAndGlyphs">$2,319.99</text>
<line x1="499" y1="629.4" x2="863" y2="629.4" stroke="#eeeeee" stroke-width="1"/>
<text transform="translate(504.2,639.4)" x="0.0" y="4.80" font-size="13.40" fill="#252423" textLength="146.00" lengthAdjust="spacingAndGlyphs">Mountain-200 Black, 46</text>
<text transform="translate(754.0,639.4)" x="-7.5" y="4.80" font-size="13.40" fill="#252423">1</text>
<text transform="translate(851.4,639.4)" x="-58.0" y="4.80" font-size="13.40" fill="#252423" textLength="58.00" lengthAdjust="spacingAndGlyphs">$2,294.99</text>
<line x1="499" y1="648.3" x2="863" y2="648.3" stroke="#eeeeee" stroke-width="1"/>
<text transform="translate(504.2,658.2)" x="0.0" y="4.80" font-size="13.40" fill="#252423" textLength="146.00" lengthAdjust="spacingAndGlyphs">Mountain-200 Black, 38</text>
<text transform="translate(754.0,658.2)" x="-7.5" y="4.80" font-size="13.40" fill="#252423">1</text>
<text transform="translate(851.4,658.2)" x="-58.0" y="4.80" font-size="13.40" fill="#252423" textLength="58.00" lengthAdjust="spacingAndGlyphs">$2,294.99</text>
<line x1="499" y1="667.1" x2="863" y2="667.1" stroke="#eeeeee" stroke-width="1"/>
<text transform="translate(504.2,677.1)" x="0.0" y="4.80" font-size="13.40" fill="#252423" textLength="108.60" lengthAdjust="spacingAndGlyphs">Road-150 Red, 52</text>
<text transform="translate(754.0,677.1)" x="-7.5" y="4.80" font-size="13.40" fill="#252423">1</text>
<text transform="translate(851.4,677.1)" x="-58.0" y="4.80" font-size="13.40" fill="#252423" textLength="58.00" lengthAdjust="spacingAndGlyphs">$3,578.27</text>
<line x1="499" y1="686.0" x2="863" y2="686.0" stroke="#eeeeee" stroke-width="1"/>
<text transform="translate(504.2,696.0)" x="0.0" y="4.80" font-size="13.40" fill="#252423" textLength="145.40" lengthAdjust="spacingAndGlyphs">Mountain-200 Silver, 46</text>
<text transform="translate(754.0,696.0)" x="-7.5" y="4.80" font-size="13.40" fill="#252423">1</text>
<text transform="translate(851.4,696.0)" x="-58.0" y="4.80" font-size="13.40" fill="#252423" textLength="58.00" lengthAdjust="spacingAndGlyphs">$2,319.99</text>
<line x1="499" y1="704.9" x2="863" y2="704.9" stroke="#eeeeee" stroke-width="1"/>
<text transform="translate(504.2,714.9)" x="0.0" y="4.80" font-size="13.40" fill="#252423" textLength="108.60" lengthAdjust="spacingAndGlyphs">Road-150 Red, 56</text>
<text transform="translate(754.0,714.9)" x="-7.5" y="4.80" font-size="13.40" fill="#252423">1</text>
<text transform="translate(851.4,714.9)" x="-58.0" y="4.80" font-size="13.40" fill="#252423" textLength="58.00" lengthAdjust="spacingAndGlyphs">$3,578.27</text>
<line x1="499" y1="725.6" x2="863" y2="725.6" stroke="#c8c6c4" stroke-width="1"/>
<text transform="translate(504.2,736.3)" x="0.0" y="4.80" font-size="13.40" fill="#000" font-weight="bold" textLength="32.00" lengthAdjust="spacingAndGlyphs">Total</text>
<rect x="864.8" y="527.6" width="6" height="9" rx="3" fill="#a6a6a6"/>
<rect x="500" y="745" width="180.6" height="7.4" rx="3.7" fill="#b3b3b3"/>
<line x1="954" y1="588.7" x2="1278" y2="588.7" stroke="#c8c6c4" stroke-width="1" stroke-dasharray="1.2 5.1" stroke-linecap="butt"/>
<text transform="translate(912.1,588.1)" x="0.0" y="4.44" font-size="12.40" fill="#605e5c">$30M</text>
<line x1="954" y1="635" x2="1278" y2="635" stroke="#c8c6c4" stroke-width="1" stroke-dasharray="1.2 5.1" stroke-linecap="butt"/>
<text transform="translate(912.1,634.4)" x="0.0" y="4.44" font-size="12.40" fill="#605e5c">$20M</text>
<line x1="954" y1="681.3" x2="1278" y2="681.3" stroke="#c8c6c4" stroke-width="1" stroke-dasharray="1.2 5.1" stroke-linecap="butt"/>
<text transform="translate(912.1,681.6)" x="0.0" y="4.44" font-size="12.40" fill="#605e5c">$10M</text>
<rect x="988" y="591.7" width="260" height="79.4" fill="#a6d3fc"/>
<rect x="988" y="671.1" width="260" height="10.4" fill="#6f87d4"/>
<line x1="988" y1="591.7" x2="1248" y2="591.7" stroke="#118dff" stroke-width="3" stroke-linecap="round"/>
<line x1="988" y1="671.1" x2="1248" y2="671.1" stroke="#12239e" stroke-width="3" stroke-linecap="round"/>
<circle cx="912.7" cy="565.2" r="5" fill="#118dff"/><circle cx="1006" cy="565.2" r="5" fill="#12239e"/>
<text transform="translate(920.2,565.6)" x="0.0" y="4.44" font-size="12.40" fill="#605e5c" textLength="75.20" lengthAdjust="spacingAndGlyphs">Internet Sales</text>
<text transform="translate(1013.8,565.6)" x="0.0" y="4.44" font-size="12.40" fill="#605e5c" textLength="76.40" lengthAdjust="spacingAndGlyphs">Internet Profit</text>
<text transform="translate(981.0,689.8) rotate(-34)" x="-58.0" y="4.30" font-size="12.00" fill="#605e5c" textLength="58.00" lengthAdjust="spacingAndGlyphs">Accesso...</text>
<text transform="translate(1067.4,689.8) rotate(-34)" x="-30.0" y="4.30" font-size="12.00" fill="#605e5c" textLength="30.00" lengthAdjust="spacingAndGlyphs">Bikes</text>
<text transform="translate(1153.8,689.8) rotate(-34)" x="-50.0" y="4.30" font-size="12.00" fill="#605e5c" textLength="50.00" lengthAdjust="spacingAndGlyphs">Clothing</text>
<text transform="translate(1240.2,689.8) rotate(-34)" x="-52.0" y="4.30" font-size="12.00" fill="#605e5c" textLength="52.00" lengthAdjust="spacingAndGlyphs">Compo...</text>
<text transform="translate(1118.0,745.8)" x="-50.2" y="4.44" font-size="12.40" fill="#252423" stroke="#252423" stroke-width="0.45" paint-order="stroke" textLength="100.50" lengthAdjust="spacingAndGlyphs">Product Category</text></svg>
<div class="abs" style="left:1348.0px;top:38.0px;width:33.0px;height:806.0px;background:#fff;"></div>
<div class="abs" style="left:1380.0px;top:38.0px;width:34.0px;height:839.0px;background:#f3f2f1;border-left:1px solid #e1dfdd;"></div>
<div class="abs" style="left:1413.0px;top:38.0px;width:34.0px;height:839.0px;background:#f3f2f1;border-left:1px solid #e1dfdd;border-right:1px solid #e1dfdd;"></div>
<svg class="abs" style="left:1360.2px;top:53.0px;" width="8.4" height="8.4" viewBox="0 0 8.4 8.4"><path d="M4.5 0.6 L0.9 4.2 L4.5 7.8 M7.4 0.6 L3.8 4.2 L7.4 7.8" fill="none" stroke="#252423" stroke-width="1.5"/></svg>
<svg class="abs" style="left:1393.3px;top:53.0px;" width="8.4" height="8.4" viewBox="0 0 8.4 8.4"><path d="M4.5 0.6 L0.9 4.2 L4.5 7.8 M7.4 0.6 L3.8 4.2 L7.4 7.8" fill="none" stroke="#252423" stroke-width="1.5"/></svg>
<svg class="abs" style="left:1426.3px;top:53.0px;" width="8.4" height="8.4" viewBox="0 0 8.4 8.4"><path d="M4.5 0.6 L0.9 4.2 L4.5 7.8 M7.4 0.6 L3.8 4.2 L7.4 7.8" fill="none" stroke="#252423" stroke-width="1.5"/></svg>
<svg class="abs" style="left:1363.0px;top:80.8px;" width="9" height="9.4" viewBox="0 0 9 9.4"><path d="M7.6 0.4 V9 M4.5 1.8 V7.6 M1.3 3.3 V6.1" fill="none" stroke="#252423" stroke-width="1.2"/></svg>
<div class="t" style="left:1354.3px;top:100.4px;width:20px;height:41.9px;writing-mode:vertical-rl;font-size:15.4px;line-height:20px;letter-spacing:-0.003px;color:#252423;">Filters</div>
<div class="t" style="left:1386.2px;top:77.6px;width:20px;height:98.6px;writing-mode:vertical-rl;font-size:15.4px;line-height:20px;letter-spacing:0.337px;color:#252423;">Visualizations</div>
<div class="t" style="left:1417.6px;top:78.7px;width:20px;height:31.5px;writing-mode:vertical-rl;font-size:15.4px;line-height:20px;letter-spacing:-0.258px;color:#252423;">Data</div>
<div class="abs" style="left:1447.0px;top:38.0px;width:351.0px;height:839.0px;background:#fafafa;"></div>
<svg class="abs" style="left:1463.8px;top:59.2px;" width="22.4" height="21.2" viewBox="0 0 22.4 21.2"><defs><linearGradient id="cg1" x1="0.6" y1="0" x2="0.3" y2="1"><stop offset="0" stop-color="#3fa552"/><stop offset="0.5" stop-color="#5cad42"/><stop offset="1" stop-color="#97ca3c"/></linearGradient><linearGradient id="cg2" x1="0.6" y1="0" x2="0.35" y2="1"><stop offset="0" stop-color="#3cc6a6"/><stop offset="0.4" stop-color="#3aa282"/><stop offset="0.75" stop-color="#44b26a"/><stop offset="1" stop-color="#86cc4c"/></linearGradient><linearGradient id="cg3" x1="0" y1="0" x2="0" y2="1"><stop offset="0" stop-color="#0f6b3c"/><stop offset="1" stop-color="#2b9456"/></linearGradient><linearGradient id="cg4" x1="0" y1="1" x2="0" y2="0"><stop offset="0" stop-color="#0f6b3c"/><stop offset="1" stop-color="#2b9a5e"/></linearGradient></defs><path d="M10.5 0.5 H14.6 C16.2 0.5 17 1.6 17.2 3 L17.5 6 H10.5 Z" fill="url(#cg3)"/><path d="M4.8 15.2 H11.6 L10.2 20.9 H8.6 C7 20.9 6.2 19.9 5.8 18.6 Z" fill="url(#cg4)"/><path d="M5.2 0.3 H13.1 L9.4 13.6 C9 14.8 8.2 15.4 7 15.4 H2.6 C0.8 15.4 -0.2 14 0.3 12.2 L2.9 2.4 C3.3 1 4 0.3 5.2 0.3 Z" fill="url(#cg1)"/><path d="M17.2 20.9 H9.2 L13.5 7.6 C13.9 6.4 14.7 5.8 15.9 5.8 H19.8 C21.6 5.8 22.6 7.2 22.1 9 L19.5 18.8 C19.1 20.2 18.4 20.9 17.2 20.9 Z" fill="url(#cg2)"/></svg>
<div class="t" style="left:1495.6px;top:61.7px;font-size:16.40px;transform:scaleX(1.0225);transform-origin:0 50%;color:#242424;">Copilot</div>
<div class="abs" style="left:1556.3px;top:60.0px;width:50.7px;height:20.0px;background:#ebebeb;border-radius:10px;"></div>
<div class="t" style="left:1564.2px;top:65.3px;font-size:10.20px;transform:scaleX(0.9647);transform-origin:0 50%;color:#616161;">Preview</div>
<svg class="abs" style="left:1772.6px;top:65.5px;" width="9.4" height="9.4" viewBox="0 0 9.4 9.4"><path d="M0.6 0.6 L8.8 8.8 M8.8 0.6 L0.6 8.8" stroke="#242424" stroke-width="1.3" fill="none"/></svg>
<div class="abs" style="left:1463.0px;top:114.0px;width:320.0px;height:186.5px;background:#fff;border-radius:8px;box-shadow:0 1px 4px rgba(0,0,0,0.14),0 0 1px rgba(0,0,0,0.12);"></div>
<div class="t" style="left:1481.8px;top:131.3px;font-size:13.60px;transform:scaleX(1.0454);transform-origin:0 50%;-webkit-text-stroke:0.45px currentColor;color:#242424;">Let's create a report</div>
<div class="t" style="left:1481.8px;top:158.5px;font-size:13.90px;transform:scaleX(1.0049);transform-origin:0 50%;color:#424242;">Start by selecting an option below. Use the</div>
<div class="t" style="left:1481.8px;top:179.3px;font-size:13.90px;transform:scaleX(1.0151);transform-origin:0 50%;color:#424242;">chat to add more detail to your request.</div>
<div class="abs" style="left:1482.0px;top:205.0px;width:282.0px;height:35.6px;background:#fff;border:1px solid #d1d1d1;border-radius:4px;"></div>
<div class="abs" style="left:1482.0px;top:250.0px;width:282.0px;height:35.6px;background:#fff;border:1px solid #d1d1d1;border-radius:4px;"></div>
<div class="t" style="left:1524.5px;top:215.3px;font-size:13.90px;transform:scaleX(0.9706);transform-origin:0 50%;color:#424242;">Create a page that shows...</div>
<div class="t" style="left:1524.5px;top:260.3px;font-size:13.90px;transform:scaleX(1.0230);transform-origin:0 50%;color:#424242;">Suggest content for this report</div>
<svg class="abs" style="left:1499.2px;top:214.1px;" width="16.6" height="16.6" viewBox="0 0 16.6 16.6"><g fill="none" stroke="#424242" stroke-width="1.15" stroke-linejoin="round"><path d="M7.2 3 A6.6 6.6 0 1 0 13.8 9.6 H7.2 Z"/><path d="M9.4 0.7 A6.4 6.4 0 0 1 15.9 7.2 H9.4 Z"/></g></svg>
<svg class="abs" style="left:1500.7px;top:259.6px;" width="13.4" height="17" viewBox="0 0 13.4 17"><g fill="none" stroke="#424242" stroke-width="1.1" stroke-linejoin="round" stroke-linecap="round"><path d="M3.6 11.4 C1.8 10.2 0.7 8.4 0.7 6.4 A6 6 0 0 1 12.7 6.4 C12.7 8.4 11.6 10.2 9.8 11.4 L9.3 14.4 C9.2 15.5 8.4 16.3 7.4 16.3 H6 C5 16.3 4.2 15.5 4.1 14.4 Z"/><path d="M4 12.8 H9.4 M6.7 12.6 V7.6 M5 5.8 L6.7 7.6 L8.4 5.8"/></g></svg>
<div class="abs" style="left:1503.0px;top:312.0px;width:280.0px;height:62.0px;background:#e3f5ec;border-radius:6px;"></div>
<div class="t" style="left:1519.0px;top:326.5px;font-size:13.90px;transform:scaleX(0.9797);transform-origin:0 50%;color:#424242;">Create a page that shows Internet Sales</div>
<div class="t" style="left:1519.0px;top:345.5px;font-size:13.90px;transform:scaleX(1.0057);transform-origin:0 50%;color:#424242;">by Product Name</div>
<div class="abs" style="left:1463.0px;top:386.0px;width:320.0px;height:98.0px;background:#fff;border-radius:8px;box-shadow:0 1px 4px rgba(0,0,0,0.14),0 0 1px rgba(0,0,0,0.12);"></div>
<div class="t" style="left:1503.0px;top:400.4px;font-size:13.90px;transform:scaleX(0.9850);transform-origin:0 50%;color:#424242;">Created a Internet Sales by Product Name</div>
<div class="t" style="left:1503.0px;top:419.5px;font-size:13.90px;transform:scaleX(0.9774);transform-origin:0 50%;color:#424242;">page.</div>
<svg class="abs" style="left:1478.0px;top:398.0px;" width="20" height="20" viewBox="0 0 20 20"><path d="M4.7 16.4 L13 7.8" stroke="#0f4d41" stroke-width="3.6" stroke-linecap="round" fill="none"/><path d="M4.7 16.4 L13 7.8" stroke="#fff" stroke-width="1.2" stroke-linecap="round" fill="none"/><path d="M11.6 6.6 L14.2 9.2" stroke="#0f4d41" stroke-width="0.9" fill="none" opacity="0.6"/><g fill="#06261f"><path d="M6.5 3.7500000000000004 L8.15 5.4 L6.5 7.050000000000001 L4.85 5.4 Z"/><path d="M17.5 1.85 L19.15 3.5 L17.5 5.15 L15.85 3.5 Z"/><path d="M15.4 12.85 L17.05 14.5 L15.4 16.15 L13.75 14.5 Z"/></g></svg>
<div class="abs" style="left:1479.3px;top:448.3px;width:70.4px;height:23.4px;background:#fff;border:1px solid #d1d1d1;border-radius:4px;"></div>
<div class="t" style="left:1512.7px;top:454.1px;font-size:12.80px;transform:scaleX(0.9215);transform-origin:0 50%;color:#424242;">Undo</div>
<svg class="abs" style="left:1490.0px;top:450.0px;" width="17" height="20" viewBox="0 0 17 20"><path d="M2.3 2.1 V7.4 H8 M2.7 7 L7 3.6 C9 2.1 11.7 2.2 13.5 4 C15.4 6 15.3 8.6 13.4 10.3 L4.6 17.7" fill="none" stroke="#242424" stroke-width="1.2" stroke-linecap="butt" stroke-linejoin="miter"/></svg>
<div class="abs" style="left:1463.0px;top:723.0px;width:320.0px;height:100.6px;background:#fff;border:1px solid #d1d1d1;border-radius:7px;"></div>
<div class="t" style="left:1478.3px;top:739.7px;font-size:13.90px;transform:scaleX(1.0086);transform-origin:0 50%;color:#707070;">Describe the report you want or select the</div>
<div class="t" style="left:1478.3px;top:758.7px;font-size:13.90px;transform:scaleX(1.0178);transform-origin:0 50%;color:#707070;">prompt guide for ideas on how I can help</div>
<svg class="abs" style="left:1480.0px;top:794.0px;" width="14" height="14" viewBox="0 0 14 14"><g fill="none" stroke="#6b6b6b" stroke-width="1.05" stroke-linejoin="round"><path d="M4.96 0.9 Q6 3.9 9 4.96 Q6 6 4.96 9 Q3.9 6 0.9 4.96 Q3.9 3.9 4.96 0.9 Z"/><path d="M9.8 7.2 Q10.6 9 12.4 9.8 Q10.6 10.6 9.8 12.4 Q9 10.6 7.2 9.8 Q9 9 9.8 7.2 Z"/></g></svg>
<svg class="abs" style="left:1754.6px;top:796.0px;" width="14.6" height="14" viewBox="0 0 14.6 14"><path d="M0.9 0.7 L14 7 L0.9 13.3 L2.8 7 Z M2.8 7 H8.8" fill="none" stroke="#242424" stroke-width="1.25" stroke-linejoin="round" stroke-linecap="round"/></svg>
<div class="t" style="left:1463.0px;top:837.0px;font-size:10.00px;color:#616161;">Content created by AI may not be accurate or appropriate, so review it</div>
<div class="t" style="left:1463.0px;top:851.0px;font-size:10.00px;transform:scaleX(0.9574);transform-origin:0 50%;color:#616161;">carefully.</div>
<div class="t" style="left:1504.3px;top:851.0px;font-size:10.00px;transform:scaleX(0.9480);transform-origin:0 50%;color:#117865;">Read terms</div>
<div class="abs" style="left:0.0px;top:844.0px;width:1380.0px;height:33.0px;background:#f3f2f1;"></div>
<svg class="abs" style="left:12.0px;top:852.0px;" width="24" height="24" viewBox="0 0 24 24"><rect x="4" y="1" width="16" height="11" rx="2" fill="#1a7865"/><rect x="2" y="12.5" width="20" height="1.6" rx="0.8" fill="#1a7865"/><rect x="0" y="20.2" width="24" height="2.7" rx="1.35" fill="#1a7865"/></svg>
<svg class="abs" style="left:61.4px;top:849.9px;" width="13" height="21" viewBox="0 0 13 21"><rect x="0.9" y="0.9" width="11.2" height="19.2" rx="2.6" fill="none" stroke="#484644" stroke-width="1.3"/><path d="M4.6 16.6 H8.4" stroke="#484644" stroke-width="1.2"/></svg>
<svg class="abs" style="left:95.5px;top:857.5px;" width="6" height="9" viewBox="0 0 6 9"><path d="M5.2 0.8 V8.2 L0.8 4.5 Z" fill="none" stroke="#c8c6c4" stroke-width="1"/></svg>
<svg class="abs" style="left:116.5px;top:857.5px;" width="6" height="9" viewBox="0 0 6 9"><path d="M0.8 0.8 V8.2 L5.2 4.5 Z" fill="none" stroke="#c8c6c4" stroke-width="1"/></svg>
<div class="abs" style="left:129.5px;top:844.0px;width:214.5px;height:33.0px;background:#fff;border-left:1px solid #7a7876;border-bottom:2.5px solid #1a7865;"></div>
<div class="t" style="left:150.4px;top:854.7px;font-size:12.60px;transform:scaleX(0.9631);transform-origin:0 50%;color:#252423;">Internet Sales by Product Name</div>
<div class="abs" style="left:344.0px;top:844.0px;width:39.0px;height:33.0px;background:#1a7865;"></div>
<svg class="abs" style="left:357.6px;top:856.8px;" width="11.4" height="11.4" viewBox="0 0 11.4 11.4"><path d="M5.7 0.4 V11 M0.4 5.7 H11" stroke="#fff" stroke-width="2.4" fill="none"/></svg>
<div class="abs" style="left:0.0px;top:0.0px;width:1798.0px;height:1.0px;background:#fff;"></div>
<div class="abs" style="left:0.0px;top:0.0px;width:1.0px;height:877.0px;background:#fff;"></div>
<div class="abs" style="left:1.0px;top:1.0px;width:1.0px;height:876.0px;background:#e4e4e4;"></div>
<div class="abs" style="left:1797.0px;top:0.0px;width:1.0px;height:877.0px;background:#fff;"></div>
</div>
</body>
</html>
